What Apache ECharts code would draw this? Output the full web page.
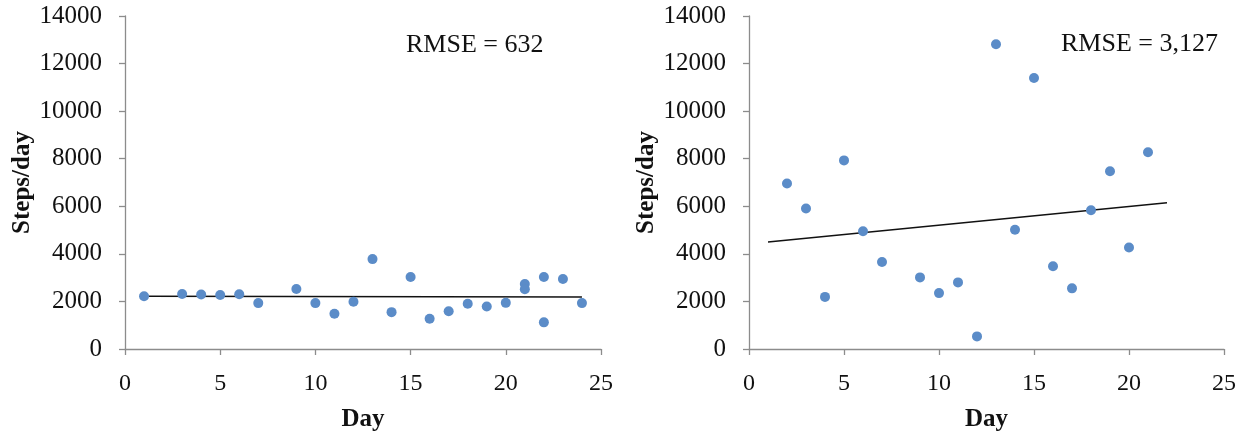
<!DOCTYPE html>
<html>
<head>
<meta charset="utf-8">
<script src="https://cdn.jsdelivr.net/npm/echarts@6/dist/echarts.min.js"></script>
<style>
  html, body { margin: 0; padding: 0; background: #fff; }
  #chart { width: 1258px; height: 441px; }
</style>
</head>
<body>
<div id="chart"></div>
<script>
// left panel: [day, steps]
const leftPoints = [
  [1, 2220], [3, 2310], [4, 2290], [5, 2270], [6, 2300], [7, 1930],
  [9, 2520], [10, 1930], [11, 1480], [12, 1990], [13, 3780], [14, 1550],
  [15, 3030], [16, 1270], [17, 1590], [18, 1900], [19, 1790], [20, 1940],
  [21, 2730], [21, 2510], [22, 3030], [22, 1120], [23, 2940], [24, 1930]
]
const leftTrend = [[1, 2215], [24, 2186]]
const leftRmse = 'RMSE = 632'

// right panel: [day, steps]
const rightPoints = [
  [2, 6960], [3, 5910], [4, 2190], [5, 7930], [6, 4950], [7, 3660],
  [9, 3010], [10, 2350], [11, 2800], [12, 530], [13, 12810], [14, 5010],
  [15, 11390], [16, 3480], [17, 2550], [18, 5830], [19, 7470], [20, 4270],
  [21, 8270]
]
const rightTrend = [[1, 4500], [22, 6150]]
const rightRmse = 'RMSE = 3,127'

const xTicks = { min: 0, max: 25, interval: 5 }
const yTicks = { min: 0, max: 14000, interval: 2000 }

const font = 'Liberation Serif'
const dotColor = '#5b8cc8'
const axisGrey = '#8c8c8c'

function xAxis(gridIndex) {
  return {
    type: 'value', gridIndex,
    ...xTicks,
    name: 'Day', nameLocation: 'middle', nameGap: 58,
    nameTextStyle: { fontFamily: font, fontSize: 25, fontWeight: 'bold', color: '#111' },
    axisLine: { onZero: false, lineStyle: { color: axisGrey, width: 1.3 } },
    axisTick: { inside: false, length: 6, lineStyle: { color: axisGrey, width: 1.3 } },
    axisLabel: { fontFamily: font, fontSize: 24, color: '#111', margin: 23 },
    splitLine: { show: false }
  }
}

function yAxis(gridIndex) {
  return {
    type: 'value', gridIndex,
    ...yTicks,
    name: 'Steps/day', nameLocation: 'middle', nameGap: 90,
    nameTextStyle: { fontFamily: font, fontSize: 25, fontWeight: 'bold', color: '#111' },
    axisLine: { show: true, lineStyle: { color: axisGrey, width: 1.3 } },
    axisTick: { show: true, length: 6, lineStyle: { color: axisGrey, width: 1.3 } },
    axisLabel: { fontFamily: font, fontSize: 25, color: '#111', margin: 23, formatter: v => String(v) },
    splitLine: { show: false }
  }
}

function scatter(idx, data) {
  return {
    type: 'scatter', xAxisIndex: idx, yAxisIndex: idx, data,
    symbolSize: 10, itemStyle: { color: dotColor, opacity: 1 }, z: 3
  }
}

function trend(idx, data) {
  return {
    type: 'line', xAxisIndex: idx, yAxisIndex: idx, data,
    symbol: 'none', lineStyle: { color: '#111', width: 1.4 }, z: 2
  }
}

const chart = echarts.init(document.getElementById('chart'), null, { renderer: 'canvas' })
chart.setOption({
  animation: false,
  backgroundColor: '#fff',
  title: [
    { text: leftRmse, left: 401, top: 27, textStyle: { fontFamily: font, fontSize: 26, fontWeight: 'normal', color: '#111' } },
    { text: rightRmse, left: 1056, top: 26, textStyle: { fontFamily: font, fontSize: 26, fontWeight: 'normal', color: '#111' } }
  ],
  grid: [
    { left: 125, top: 16, width: 476, height: 333 },
    { left: 749, top: 16, width: 475, height: 333 }
  ],
  xAxis: [xAxis(0), xAxis(1)],
  yAxis: [yAxis(0), yAxis(1)],
  series: [
    trend(0, leftTrend), scatter(0, leftPoints),
    trend(1, rightTrend), scatter(1, rightPoints)
  ]
})
</script>
</body>
</html>
